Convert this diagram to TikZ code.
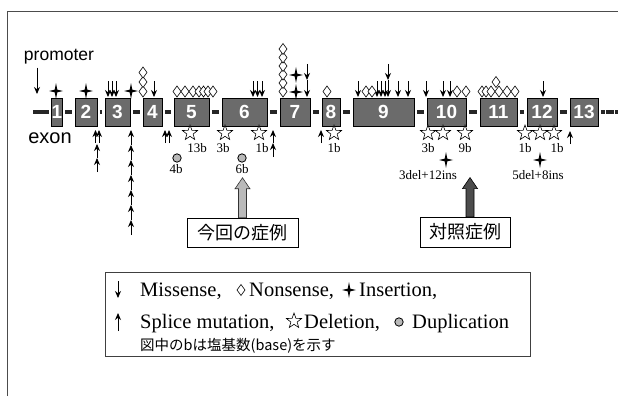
\documentclass[tikz,border=0pt]{standalone}
\usepackage{fontspec}
\setmainfont{Liberation Serif}
\setsansfont{Liberation Sans}
\newfontfamily\jp{Noto Sans CJK JP}
\usetikzlibrary{arrows.meta,calc}
\tikzset{
  mkdia/.pic={\filldraw[fill=white,draw=black,line width=0.6pt] (0,-5.5) -- (4,0) -- (0,5.5) -- (-4,0) -- cycle;},
  mkins/.pic={\fill[black] (0,-8) -- (1.3,-1.3) -- (7,0) -- (1.3,1.3) -- (0,8) -- (-1.3,1.3) -- (-7,0) -- (-1.3,-1.3) -- cycle;},
  mkstar/.pic={\filldraw[fill=white,draw=black,line width=0.6pt] (-90:8) -- (-54:3.3) -- (-18:8) -- (18:3.3) -- (54:8) -- (90:3.3) -- (126:8) -- (162:3.3) -- (198:8) -- (234:3.3) -- cycle;},
  mkdup/.pic={\filldraw[fill=gray!55,draw=black,line width=0.8pt] (0,0) circle (4.2pt);},
  mis/.style={line width=1pt,-{Stealth[length=7pt,width=6pt]}},
  exon/.style={draw=black,line width=0.8pt,fill=black!58,minimum height=28pt,inner sep=0pt,text=white,font=\sffamily\bfseries\fontsize{19}{19}\selectfont},
  bb/.style={line width=3.5pt,black!85,shorten <=2.5pt,shorten >=2.5pt},
  lbl/.style={font=\fontsize{13}{13}\selectfont,inner sep=0pt},
  legtxt/.style={font=\fontsize{20.5}{20.5}\selectfont,inner sep=0pt,anchor=base west},
  jpbox/.style={draw=black,line width=0.9pt,inner sep=0pt,font=\jp\fontsize{18}{18}\selectfont}
}
\begin{document}
\begin{tikzpicture}[x=1pt,y=-1pt]
\useasboundingbox (0,0) rectangle (618,396);
% frame
\draw[black!70,line width=1pt] (7,396) -- (7,12) -- (618,12);
% promoter / exon labels
\node[font=\sffamily\fontsize{17.5}{17.5}\selectfont,inner sep=0pt] (prom) at (59,57) {promoter};
\coordinate (pa) at (37,94);
\draw[mis] (pa |- prom.south) ++(0,3) -- (pa);
\node[font=\sffamily\fontsize{20}{20}\selectfont,inner sep=0pt] (exlab) at (50,138) {exon};
% exons
\node[exon,minimum width=10pt] (e1) at (57,112) {1};
\node[exon,minimum width=22pt] (e2) at (86,112) {2};
\node[exon,minimum width=25pt] (e3) at (117.5,112) {3};
\node[exon,minimum width=19pt] (e4) at (152.5,112) {4};
\node[exon,minimum width=35pt] (e5) at (191.5,112) {5};
\node[exon,minimum width=45pt] (e6) at (244.5,112) {6};
\node[exon,minimum width=30pt] (e7) at (295,112) {7};
\node[exon,minimum width=18pt] (e8) at (331,112) {8};
\node[exon,minimum width=61pt] (e9) at (383.5,112) {9};
\node[exon,minimum width=39pt] (e10) at (446.5,112) {10};
\node[exon,minimum width=37pt] (e11) at (498.5,112) {11};
\node[exon,minimum width=30pt] (e12) at (542,112) {12};
\node[exon,minimum width=28pt] (e13) at (584,112) {13};
% backbone
\coordinate (bbL) at (33,112);
\coordinate (bbR) at (618,112);
\draw[bb,shorten <=0pt] (bbL) -- (e1);
\foreach \a/\b in {e1/e2,e2/e3,e3/e4,e4/e5,e5/e6,e6/e7,e7/e8,e8/e9,e9/e10,e10/e11,e11/e12,e12/e13}
  \draw[bb] (\a) -- (\b);
\draw[bb,shorten >=0pt,dash pattern=on 4pt off 0.6pt] (e13) -- (bbR);
% missense arrows above
\foreach \x in {108,112,116,154,253,257.5,262,358,377,381,385,398,408,426,443,450,543}
  \draw[mis] (\x,81) -- (\x,97);
\foreach \x in {307,388}{
  \draw[mis] (\x,64) -- (\x,80);
  \draw[mis] (\x,80) -- (\x,97);}
% nonsense diamonds
\foreach \y in {91.5,82,72.5} \pic at (143,\y) {mkdia};
\foreach \x in {177,185,193,199,203.5,208,213} \pic at (\x,91.5) {mkdia};
\foreach \y in {91.5,83,74.5,66,57.5,49} \pic at (283,\y) {mkdia};
\foreach \x in {327,366,372,457,466} \pic at (\x,91.5) {mkdia};
\pic at (496,82) {mkdia};
\foreach \x in {482,486,491,499,507,515} \pic at (\x,91.5) {mkdia};
% insertions above
\foreach \x in {56,86,131} \pic at (\x,91) {mkins};
\pic at (296,92) {mkins};
\pic at (296,75) {mkins};
% splice arrows below
\foreach \x in {95.5,99,165,169,273,321} \draw[mis] (\x,143) -- (\x,130);
\draw[mis] (97,158) -- (97,144);
\draw[mis] (97,172) -- (97,158);
\foreach \h in {130,145,160,175,190,205,220} \draw[mis] (131,\h+15) -- (131,\h);
\draw[mis] (273,157) -- (273,143);
\draw[mis] (570,144) -- (570,131);
% deletions
\foreach \x in {190,225,259,334,428,443,465,525,540,554} \pic at (\x,133) {mkstar};
\node[lbl] (l13b) at (197,148) {13b};
\node[lbl] (l3b) at (223,148) {3b};
\node[lbl] (l1ba) at (262,148) {1b};
\node[lbl] (l1bb) at (334,148) {1b};
\node[lbl] (l3bb) at (428,148) {3b};
\node[lbl] (l9b) at (465,148) {9b};
\node[lbl] (l1bc) at (525,148) {1b};
\node[lbl] (l1bd) at (557,148) {1b};
% insertions below
\pic at (446,160) {mkins};
\pic at (540,160) {mkins};
\node[lbl] (l3del) at (428,175) {3del+12ins};
\node[lbl] (l5del) at (538,175) {5del+8ins};
% duplications
\pic at (177,158) {mkdup};
\pic at (242,158) {mkdup};
\node[lbl] (l4b) at (176,169) {4b};
\node[lbl] (l6b) at (242,169) {6b};
% case boxes
\node[jpbox,minimum width=111pt,minimum height=29pt] (case1) at (242.5,232.5) {今回の症例};
\node[jpbox,minimum width=90pt,minimum height=30pt] (case2) at (465,232) {対照症例};
\filldraw[fill=gray!55,draw=black!80,line width=0.6pt] let \p1=(case1.north), \p2=($(l6b.south)+(0,4)$) in
  (\x1-4pt,\y1) -- (\x1-4pt,\y2-11pt) -- (\x1-7.5pt,\y2-11pt) -- (\x1,\y2) -- (\x1+7.5pt,\y2-11pt) -- (\x1+4pt,\y2-11pt) -- (\x1+4pt,\y1) -- cycle;
\filldraw[fill=black!70,draw=black,line width=0.6pt] let \p1=($(case2.north)+(5,0)$), \p2=($(case2.north)+(5,-39)$) in
  (\x1-4pt,\y1) -- (\x1-4pt,\y2-11pt) -- (\x1-7.5pt,\y2-11pt) -- (\x1,\y2) -- (\x1+7.5pt,\y2-11pt) -- (\x1+4pt,\y2-11pt) -- (\x1+4pt,\y1) -- cycle;
% legend
\node[draw=black!75,line width=0.9pt,minimum width=425pt,minimum height=84pt,inner sep=0pt] (leg) at (317.5,314) {};
\draw[mis] (118,281) -- (118,298);
\node[legtxt] (tmis) at (140,296) {Missense,};
\pic at (241,290) {mkdia};
\node[legtxt] (tnon) at (249,296) {Nonsense,};
\pic at (349,290) {mkins};
\node[legtxt] (tins) at (359,296) {Insertion,};
\draw[mis] (118,331) -- (118,313);
\node[legtxt] (tspl) at (140,328) {Splice mutation,};
\pic at (294,321) {mkstar};
\node[legtxt] (tdel) at (304,328) {Deletion,};
\pic at (399,322) {mkdup};
\node[legtxt] (tdup) at (412,328) {Duplication};
\node[inner sep=0pt,anchor=base west,font=\jp\fontsize{14.5}{14.5}\selectfont] (tnote) at (140,350) {図中のbは塩基数(base)を示す};
\end{tikzpicture}
\end{document}
